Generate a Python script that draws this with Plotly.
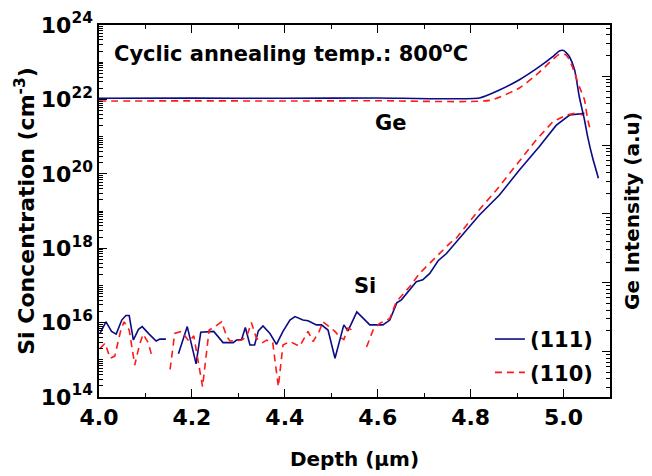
import plotly.graph_objects as go

# ---------------- data ----------------
# Si concentration (cm^-3) vs depth (um), orientation (111)
si111_depth = [4.002, 4.015, 4.027, 4.037, 4.049, 4.058, 4.065, 4.074, 4.085, 4.093,
               4.108, 4.123, 4.131, 4.144, 4.158, 4.171, 4.190, 4.209, 4.219, 4.247,
               4.267, 4.289, 4.296, 4.307, 4.315, 4.325, 4.335, 4.343, 4.353, 4.368,
               4.382, 4.396, 4.411, 4.422, 4.439, 4.450, 4.468, 4.479, 4.493, 4.508,
               4.527, 4.536, 4.555, 4.583, 4.611, 4.626, 4.641, 4.651, 4.669, 4.683,
               4.697, 4.712, 4.730, 4.748, 4.776, 4.819, 4.862, 4.905, 4.948, 4.984,
               5.013, 5.045]
si111_conc = [5.1e15, 1.05e16, 5.8e15, 4.9e15, 1.17e16, 1.55e16, 1.55e16, 3.4e15, 6.6e15, 7.8e15,
              4.9e15, 3.2e15, 3.6e15, 3.6e15, None, 1.45e15, 7.8e15, 7.8e14, 5.5e15, 5.8e15,
              2.9e15, 2.9e15, 3.4e15, 3.5e15, 7.4e15, 2.5e15, 2.5e15, 6.0e15, 8.1e15, 5.1e15,
              2.6e15, 5.8e15, 1.17e16, 1.45e16, 1.17e16, 1.12e16, 8.7e15, 8.7e15, 6.3e15, 1.1e15,
              8.7e15, 6.0e15, 1.95e16, 8.7e15, 8.7e15, 1.17e16, 3.4e16, 4.1e16, 7.6e16, 1.26e17,
              1.41e17, 2.1e17, 4.6e17, 7.2e17, 1.86e18, 7.8e18, 2.7e19, 1.26e20, 5.4e20, 2.0e21,
              3.8e21, 4.2e21]

# Si concentration, orientation (110)
si110_depth = [4.002, 4.013, 4.024, 4.034, 4.047, 4.054, 4.065, 4.077, 4.087, 4.095,
               4.106, 4.115, 4.135, 4.153, 4.163, 4.178, 4.194, 4.204, 4.223, 4.237,
               4.247, 4.264, 4.275, 4.282, 4.307, 4.318, 4.328, 4.339, 4.352, 4.361,
               4.374, 4.386, 4.396, 4.411, 4.432, 4.450, 4.461, 4.474, 4.482, 4.508,
               4.517, 4.527, 4.536, 4.545, 4.560, 4.576, 4.590, 4.604, 4.626, 4.640,
               4.669, 4.690, 4.726, 4.755, 4.769, 4.812, 4.855, 4.898, 4.941, 4.977,
               5.006, 5.027, 5.042]
si110_conc = [2.0e15, 2.8e15, 1.1e15, 1.26e15, 6.3e15, 1.05e16, 6.3e15, 7.2e14, 2.5e15, 4.9e15,
              2.9e15, 1.1e15, None, 5.5e14, 5.1e15, 5.8e15, 3.1e15, 4.4e15, 1.9e14, 6.3e15,
              7.4e15, 1.05e16, 4.2e15, 3.2e15, 3.4e15, 4.2e15, 1.0e16, 3.8e15, 2.9e15, 3.4e15,
              2.9e15, 1.9e14, 2.5e15, 3.1e15, 2.3e15, 5.8e15, 3.1e15, 5.8e15, 1.05e16, 5.8e15,
              4.2e15, 3.5e15, 7.1e15, 6.3e15, None, 2.2e15, 6.3e15, 9.5e15, 1.3e16, 3.6e16,
              9.3e16, 2.1e17, 5.9e17, 1.35e18, 1.86e18, 8.7e18, 3.6e19, 1.74e20, 8.1e20, 2.5e21,
              3.8e21, 4.3e21, 3.8e21]

# Ge intensity (a.u.), orientation (111)
ge111_depth = [4.000, 4.200, 4.400, 4.600, 4.819, 4.862, 4.905, 4.948, 4.976, 4.991,
               5.000, 5.006, 5.013, 5.024, 5.034, 5.045, 5.052, 5.062, 5.075]
ge111_int = [4.79e4, 4.82e4, 4.80e4, 4.84e4, 4.84e4, 6.31e4, 8.91e4, 1.38e5, 1.91e5, 2.34e5,
             2.37e5, 2.19e5, 1.91e5, 1.23e5, 5.01e4, 2.34e4, 1.32e4, 6.76e3, 3.31e3]

# Ge intensity (a.u.), orientation (110)
ge110_depth = [4.000, 4.200, 4.400, 4.600, 4.841, 4.905, 4.948, 4.976, 4.991, 5.002,
               5.009, 5.019, 5.034, 5.045, 5.052, 5.058]
ge110_int = [4.37e4, 4.40e4, 4.38e4, 4.42e4, 4.47e4, 6.76e4, 1.15e5, 1.74e5, 2.09e5, 2.09e5,
             1.91e5, 1.38e5, 7.08e4, 4.57e4, 2.34e4, 1.66e4]

series_names = ["(111)", "(110)"]
left_exponents = [14, 16, 18, 20, 22, 24]
x_tick_labels = ["4.0", "4.2", "4.4", "4.6", "4.8", "5.0"]

# ---------------- styling ----------------
FONT = "DejaVu Sans"
BLUE = "#0b0b85"
RED = "#ff1a1a"

left_major = [10.0 ** e for e in left_exponents]
left_minor = [k * 10.0 ** e for e in range(14, 24) for k in range(2, 11)
              if k * 10.0 ** e not in left_major]
right_major = [10.0 ** e for e in range(0, 7)]
right_minor = [k * 10.0 ** e for e in range(0, 6) for k in range(2, 10)]

fig = go.Figure()
fig.add_trace(go.Scatter(x=si111_depth, y=si111_conc, mode="lines", name=series_names[0],
                         legendgroup="a", line=dict(color=BLUE, width=1.6)))
fig.add_trace(go.Scatter(x=si110_depth, y=si110_conc, mode="lines", name=series_names[1],
                         legendgroup="b", line=dict(color=RED, width=1.6, dash="7px,5px")))
fig.add_trace(go.Scatter(x=ge111_depth, y=ge111_int, mode="lines", name=series_names[0],
                         legendgroup="a", showlegend=False, yaxis="y2",
                         line=dict(color=BLUE, width=1.6, shape="spline", smoothing=0.5)))
fig.add_trace(go.Scatter(x=ge110_depth, y=ge110_int, mode="lines", name=series_names[1],
                         legendgroup="b", showlegend=False, yaxis="y2",
                         line=dict(color=RED, width=1.6, dash="7px,5px", shape="spline", smoothing=0.5)))

tickfont = dict(family=FONT, size=22, color="black", weight="bold")

fig.update_layout(
    width=652, height=476,
    margin=dict(l=99, r=42, t=25, b=79),
    paper_bgcolor="white", plot_bgcolor="white",
    font=dict(family=FONT, color="black"),
    showlegend=True,
    legend=dict(x=0.765, y=0.21, xanchor="left", yanchor="top",
                bgcolor="rgba(0,0,0,0)", tracegroupgap=3,
                font=dict(family=FONT, size=21, color="black", weight="bold")),
    xaxis=dict(
        range=[4.0, 5.1], tickvals=[4.0, 4.2, 4.4, 4.6, 4.8, 5.0], ticktext=x_tick_labels,
        ticks="inside", ticklen=8, tickwidth=1.3, tickcolor="black",
        minor=dict(dtick=0.1, tick0=4.0, ticks="inside", ticklen=4, tickwidth=1.2, tickcolor="black"),
        showline=True, linecolor="black", linewidth=1.5, mirror="ticks",
        showgrid=False, zeroline=False, tickfont=tickfont, automargin=False,
        title=dict(text="Depth (μm)", standoff=23,
                   font=dict(family=FONT, size=20, color="black", weight="bold")),
    ),
    yaxis=dict(
        type="log", range=[14, 24],
        tickvals=left_major, ticktext=["10<sup>%d</sup>" % e for e in left_exponents],
        ticks="inside", ticklen=8, tickwidth=1.3, tickcolor="black",
        minor=dict(tickvals=left_minor, ticks="inside", ticklen=4, tickwidth=1, tickcolor="black"),
        showline=True, linecolor="black", linewidth=1.5, mirror=False,
        showgrid=False, zeroline=False, tickfont=tickfont, automargin=False,
        title=dict(text="Si Concentration (cm<sup>-3</sup>)", standoff=0,
                   font=dict(family=FONT, size=22, color="black", weight="bold")),
    ),
    yaxis2=dict(
        type="log", range=[0.339, 5.746], overlaying="y", side="right",
        tickvals=right_major, showticklabels=False,
        ticks="inside", ticklen=8, tickwidth=1.3, tickcolor="black",
        minor=dict(tickvals=right_minor, ticks="inside", ticklen=4, tickwidth=1, tickcolor="black"),
        showline=True, linecolor="black", linewidth=1.5,
        showgrid=False, zeroline=False, automargin=False,
        title=dict(text="Ge Intensity (a.u)", standoff=14,
                   font=dict(family=FONT, size=20, color="black", weight="bold")),
    ),
)

fig.add_annotation(xref="paper", yref="paper", x=0.025, y=0.927, xanchor="left", yanchor="middle",
                   text="Cyclic annealing temp.: 800<sup>o</sup>C", showarrow=False,
                   font=dict(family=FONT, size=21, color="black", weight="bold"))
fig.add_annotation(xref="paper", yref="paper", x=0.571, y=0.737, xanchor="center", yanchor="middle",
                   text="Ge", showarrow=False,
                   font=dict(family=FONT, size=21, color="black", weight="bold"))
fig.add_annotation(xref="paper", yref="paper", x=0.521, y=0.298, xanchor="center", yanchor="middle",
                   text="Si", showarrow=False,
                   font=dict(family=FONT, size=21, color="black", weight="bold"))

fig.write_html("out.html", config={"displayModeBar": False},
               post_script="document.body.style.margin='0';document.body.style.overflow='hidden';")
